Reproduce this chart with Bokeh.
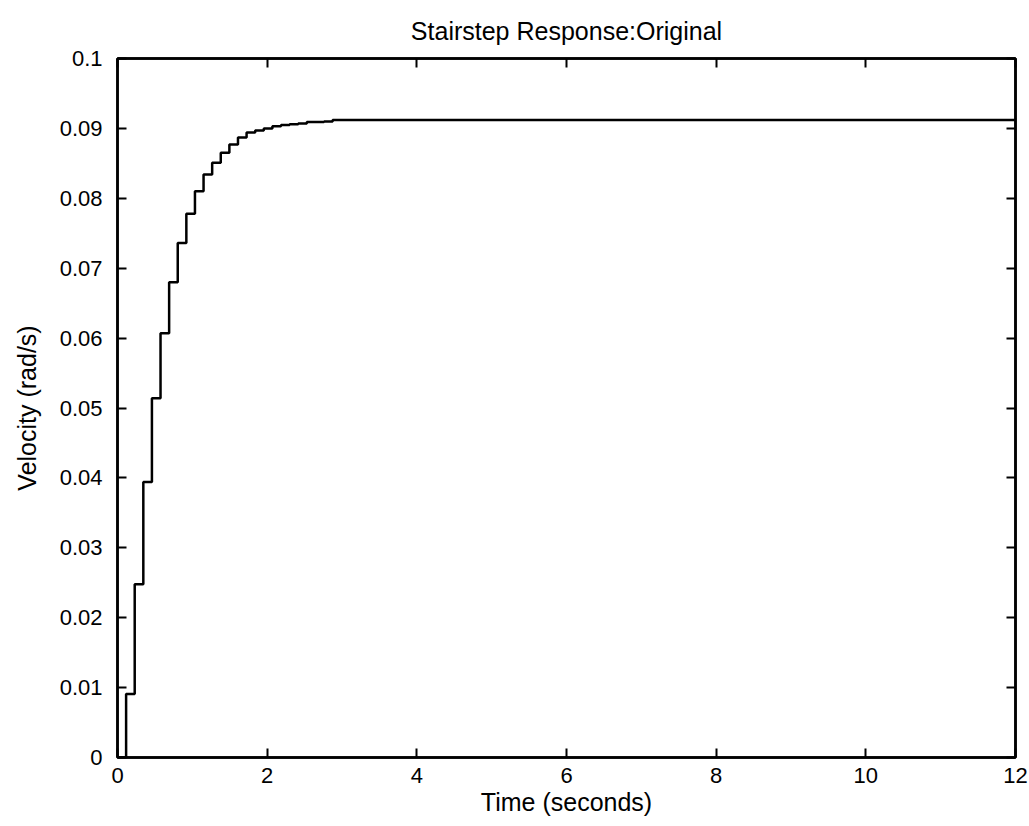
from bokeh.plotting import figure
from bokeh.models import LinearAxis, FixedTicker, PrintfTickFormatter, CustomJSTickFormatter, Range1d
from bokeh.embed import file_html
from bokeh.resources import INLINE

# Data (sample instants and held velocity values)
time_s = [0.0, 0.115, 0.23, 0.345, 0.46, 0.575, 0.69, 0.805, 0.92, 1.035,
          1.15, 1.265, 1.38, 1.495, 1.61, 1.725, 1.84, 1.955, 2.07, 2.185,
          2.30, 2.415, 2.53, 2.645, 2.76, 2.875, 2.99, 12.0]
velocity = [0.0, 0.0091, 0.0248, 0.0394, 0.0514, 0.0607, 0.0680, 0.0736, 0.0778, 0.0810,
            0.0834, 0.0851, 0.0865, 0.0877, 0.0887, 0.0894, 0.0897, 0.0900, 0.0903, 0.0905,
            0.0906, 0.0907, 0.0909, 0.0909, 0.0910, 0.0912, 0.0912, 0.0912]

x_ticks = [0, 2, 4, 6, 8, 10, 12]
y_ticks = [0, 0.01, 0.02, 0.03, 0.04, 0.05, 0.06, 0.07, 0.08, 0.09, 0.1]

FONT = "Liberation Sans"

p = figure(width=1029, height=826, output_backend="svg", toolbar_location=None,
           x_range=Range1d(0, 12), y_range=Range1d(0, 0.1),
           min_border_left=117, min_border_right=14, min_border_top=57, min_border_bottom=69,
           title="Stairstep Response:Original")

p.step(time_s, velocity, mode="after", line_color="black", line_width=2.5)

p.background_fill_color = "white"
p.border_fill_color = "white"
p.outline_line_color = "black"
p.outline_line_width = 2.5
p.xgrid.visible = False
p.ygrid.visible = False

p.title.align = "center"
p.title.text_font = FONT
p.title.text_font_size = "25px"
p.title.text_font_style = "normal"
p.title.text_color = "black"
p.title.standoff = 28

for ax, ticks in ((p.xaxis[0], x_ticks), (p.yaxis[0], y_ticks)):
    ax.ticker = FixedTicker(ticks=ticks)
    ax.formatter = PrintfTickFormatter(format="%g")
    ax.major_tick_in = 9
    ax.major_tick_out = 0
    ax.major_tick_line_width = 2
    ax.major_tick_line_color = "black"
    ax.minor_tick_line_color = None
    ax.axis_line_color = "black"
    ax.axis_line_width = 2.5
    ax.major_label_text_font = FONT
    ax.major_label_text_font_size = "22px"
    ax.major_label_text_color = "black"
    ax.axis_label_text_font = FONT
    ax.axis_label_text_font_size = "25px"
    ax.axis_label_text_font_style = "normal"
    ax.axis_label_text_color = "black"

p.xaxis.axis_label = "Time (seconds)"
p.yaxis.axis_label = "Velocity (rad/s)"
p.xaxis.major_label_standoff = 10
p.xaxis.axis_label_standoff = 2
p.yaxis.major_label_standoff = 15
p.yaxis.axis_label_standoff = 16

blank = CustomJSTickFormatter(code="return '';")
top = LinearAxis(ticker=FixedTicker(ticks=x_ticks), formatter=blank)
right = LinearAxis(ticker=FixedTicker(ticks=y_ticks), formatter=blank)
for ax in (top, right):
    ax.major_tick_in = 9
    ax.major_tick_out = 0
    ax.major_tick_line_width = 2
    ax.major_tick_line_color = "black"
    ax.minor_tick_line_color = None
    ax.axis_line_color = "black"
    ax.axis_line_width = 2.5
    ax.major_label_standoff = 0
p.add_layout(top, "above")
p.add_layout(right, "right")

open("out.html", "w").write(file_html(p, INLINE))
